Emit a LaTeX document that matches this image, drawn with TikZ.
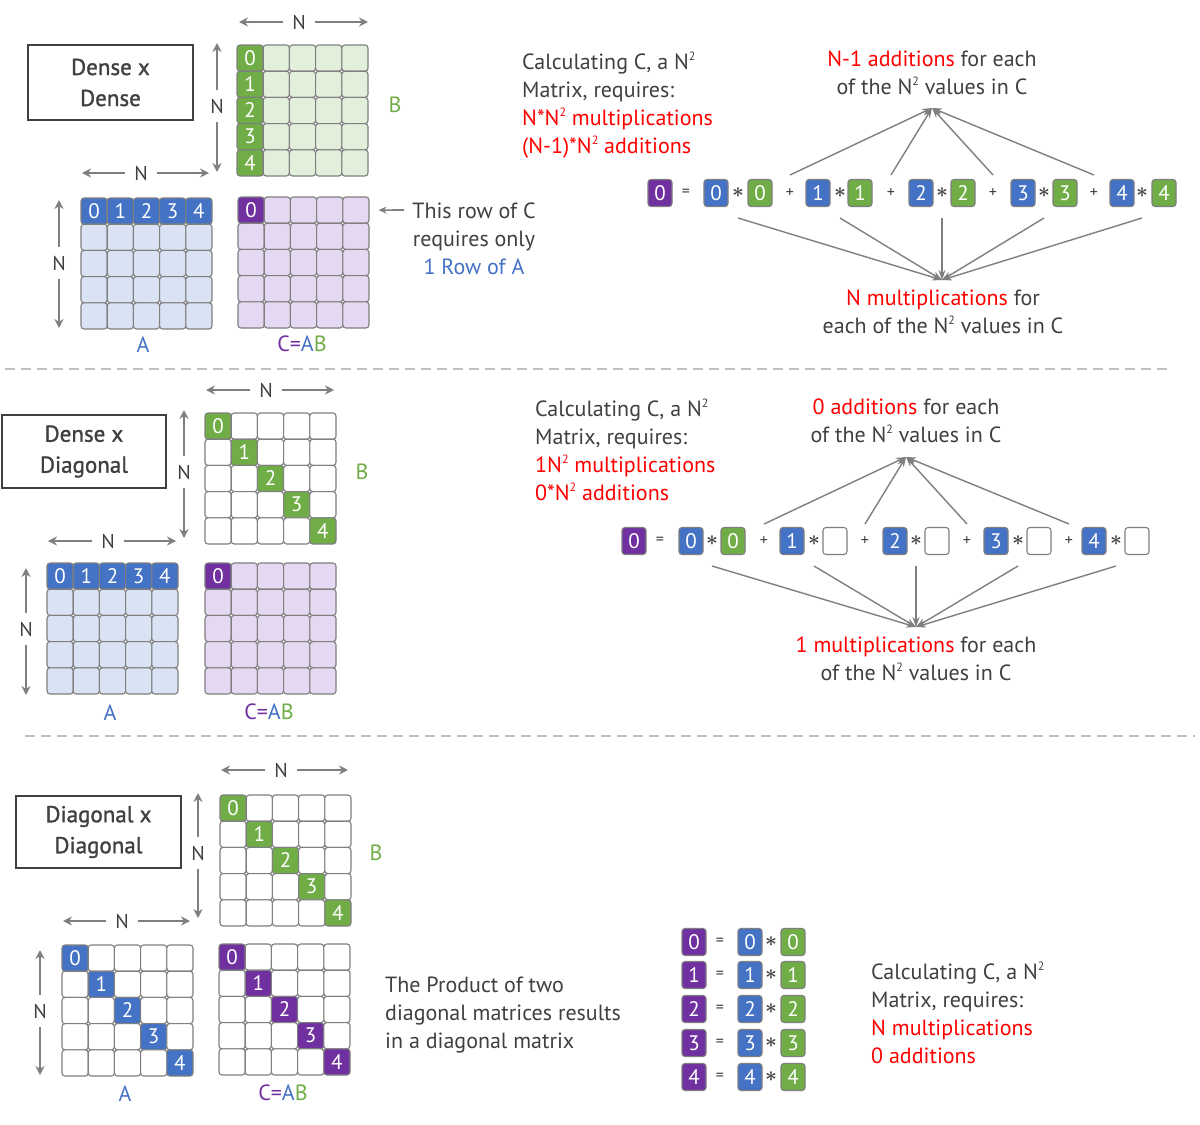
\documentclass[tikz,border=0pt]{standalone}
\usepackage{fontspec}
\setmainfont{PT Sans}
\usetikzlibrary{arrows.meta}
\definecolor{dgreen}{HTML}{70AD47}
\definecolor{lgreen}{HTML}{E2EFDA}
\definecolor{dblue}{HTML}{4472C4}
\definecolor{lblue}{HTML}{DAE3F3}
\definecolor{dpurple}{HTML}{7030A0}
\definecolor{lpurple}{HTML}{E5D8F2}
\definecolor{cellline}{HTML}{7F7F7F}
\definecolor{txtgray}{HTML}{404040}
\definecolor{arrgray}{HTML}{7F7F7F}
\definecolor{sepgray}{HTML}{BFBFBF}
\definecolor{myred}{HTML}{FF0000}
\newcommand\mycellfont{\fontsize{21}{22}\selectfont}
\newcommand\myopfont{\fontsize{16}{17}\selectfont}
\newcommand\mynfont{\fontsize{20}{22}\selectfont}
\newcommand\mytxtfont{\fontsize{22}{28}\selectfont}
\newcommand\mytitlefont{\fontsize{23}{31}\selectfont\addfontfeature{FakeBold=1.2}}
\newcommand\myast{\fontsize{20}{20}\selectfont$\boldsymbol{\ast}$}
\newcommand\sq{\raisebox{0.8ex}{\fontsize{12}{12}\selectfont 2}}
\usepackage{amsmath}
\tikzset{
 cell/.style={draw=cellline, line width=1.1pt, rounded corners=3pt, minimum size=26.2pt, inner sep=0pt, text=white, font=\mycellfont},
 eqbox/.style={draw=cellline, line width=1.1pt, rounded corners=3pt, minimum width=24pt, minimum height=27pt, inner sep=0pt, text=white, font=\mycellfont},
 op/.style={text=txtgray, font=\myopfont, inner sep=0pt},
 nlab/.style={text=txtgray, font=\mynfont, inner sep=9pt},
 narrow/.style={draw=arrgray, line width=2.8pt, -{Stealth[length=9pt,width=9pt]}},
 smallarr/.style={draw=arrgray, line width=1.6pt, -{Stealth[length=8pt,width=7pt]}},
 conv/.style={draw=arrgray, line width=1.4pt, -{Stealth[length=10pt,width=7pt]}},
 txt/.style={text=txtgray, font=\mytxtfont, inner sep=0pt, align=left},
 lab/.style={font=\mytxtfont, inner sep=0pt},
 titlebox/.style={draw=txtgray, line width=1.1pt, font=\mytitlefont, align=center, text=txtgray},
 sep/.style={draw=sepgray, line width=1.4pt, dash pattern=on 10pt off 6pt},
}
\newcommand\mymat[6]{%
 \foreach \i in {0,...,4}{%
  \foreach \j in {0,...,4}{%
   \pgfmathtruncatemacro\hl{((#6==1)&&(\i==0))||((#6==2)&&(\j==0))||((#6==3)&&(\i==\j))||((#6==4)&&(\i==0)&&(\j==0))}%
   \pgfmathtruncatemacro\lbl{(#6==1)?\j:\i}%
   \ifnum\hl=1
     \node[cell, fill=#5] (#1-\i-\j) at ({#2+(\j+0.5)*26.2},{#3+(\i+0.5)*26.2}) {\lbl};
   \else
     \node[cell, fill=#4] (#1-\i-\j) at ({#2+(\j+0.5)*26.2},{#3+(\i+0.5)*26.2}) {};
   \fi
  }}}
\newcommand\harr[5]{%
  \node[nlab] (#1) at (#2,#3) {N};
  \coordinate (#1l) at (#4,#3); \coordinate (#1r) at (#5,#3);
  \draw[narrow] (#1.west) -- (#1l); \draw[narrow] (#1.east) -- (#1r);}
\newcommand\varr[5]{%
  \node[nlab] (#1) at (#2,#3) {N};
  \coordinate (#1t) at (#2,#4); \coordinate (#1b) at (#2,#5);
  \draw[narrow] (#1.north) -- (#1t); \draw[narrow] (#1.south) -- (#1b);}
\begin{document}
\begin{tikzpicture}[x=1pt,y=-1pt]
\fill[white] (0,0) rectangle (1200,1125);
\useasboundingbox (0,0) rectangle (1200,1125);

% ================= Section 1 =================
\node[titlebox, minimum width=165pt, minimum height=75pt] (t1) at (110.5,82.5) {Dense x\\Dense};
\harr{n1t}{299}{22}{239}{368}
\varr{n1v}{217}{106}{43}{172}
\harr{n1h}{141}{173}{82}{209}
\varr{n1a}{59}{263}{200}{328}
\mymat{B1}{237}{45}{lgreen}{dgreen}{2}
\mymat{A1}{81}{198}{lblue}{dblue}{1}
\mymat{C1}{238}{197}{lpurple}{dpurple}{4}
\node[lab, text=dgreen] (b1lab) at (395,105) {B};
\node[lab, text=dblue] (a1lab) at (143,345) {A};
\node[lab] (c1lab) at (302,344) {\textcolor{dpurple}{C=}\textcolor{dblue}{A}\textcolor{dgreen}{B}};
\node[txt, align=center] (rowtxt) at (474,239) {This row of C\\requires only\\\textcolor{dblue}{1 Row of A}};
\coordinate (rowtail) at (404,210);
\draw[smallarr] (rowtail) -- ([xshift=9pt]C1-0-4.east);

\node[txt] (calc1) at (522,105) [anchor=west] {Calculating C, a N\sq\\Matrix, requires:\\\textcolor{myred}{N*N\sq{} multiplications}\\\textcolor{myred}{(N-1)*N\sq{} additions}};
\node[txt, align=center] (up1) at (932,73) {\textcolor{myred}{N-1 additions} for each\\of the N\sq{} values in C};
\node[txt, align=center] (dn1) at (943,312) {\textcolor{myred}{N multiplications} for\\each of the N\sq{} values in C};

\node[eqbox, fill=dpurple] (e1p) at (660,193) {0};
\node[op] (e1eq) at (686,193) {=};
\foreach \k/\xa/\xm/\xb/\xs in {0/716/738/760/0, 1/818/840/860/790, 2/921/942/963/891, 3/1023/1044/1065/993, 4/1122/1142/1164/1094}{
  \node[eqbox, fill=dblue] (e1a\k) at (\xa,193) {\k};
  \node[op] (e1m\k) at (\xm,193) {\myast};
  \node[eqbox, fill=dgreen] (e1b\k) at (\xb,193) {\k};
  \ifnum\k>0 \node[op] (e1s\k) at (\xs,193) {+}; \fi
}
\coordinate (e1top) at (932,108);
\coordinate (e1bot) at (942,280);
\foreach \k in {1,...,4} \draw[conv] ([yshift=18pt]e1s\k.center) -- (e1top);
\foreach \k in {0,...,4} \draw[conv] ([yshift=-25pt]e1m\k.center) -- (e1bot);

\coordinate (s1a) at (5,369); \coordinate (s1b) at (1172,369);
\draw[sep] (s1a) -- (s1b);

% ================= Section 2 =================
\node[titlebox, minimum width=164pt, minimum height=73pt] (t2) at (84,451.5) {Dense x\\Diagonal};
\harr{n2t}{266}{390}{206}{334}
\varr{n2v}{184}{472}{410}{538}
\harr{n2h}{108}{541}{48}{176}
\varr{n2a}{26}{629}{568}{695}
\mymat{B2}{205}{413}{white}{dgreen}{3}
\mymat{A2}{47}{563}{lblue}{dblue}{1}
\mymat{C2}{205}{563}{lpurple}{dpurple}{4}
\node[lab, text=dgreen] (b2lab) at (362,472) {B};
\node[lab, text=dblue] (a2lab) at (110,713) {A};
\node[lab] (c2lab) at (269,712) {\textcolor{dpurple}{C=}\textcolor{dblue}{A}\textcolor{dgreen}{B}};

\node[txt] (calc2) at (535,450) [anchor=west] {Calculating C, a N\sq\\Matrix, requires:\\\textcolor{myred}{1N\sq{} multiplications}\\\textcolor{myred}{0*N\sq{} additions}};
\node[txt, align=center] (up2) at (906,421) {\textcolor{myred}{0 additions} for each\\of the N\sq{} values in C};
\node[txt, align=center] (dn2) at (916,659) {\textcolor{myred}{1 multiplications} for each\\of the N\sq{} values in C};

\node[eqbox, fill=dpurple] (e2p) at (634,541) {0};
\node[op] (e2eq) at (660,541) {=};
\node[eqbox, fill=dblue] (e2a0) at (691,541) {0};
\node[op] (e2m0) at (712,541) {\myast};
\node[eqbox, fill=dgreen] (e2b0) at (733,541) {0};
\foreach \k/\xa/\xm/\xb/\xs in {1/792/814/835/764, 2/895/916/937/865, 3/996/1018/1039/967, 4/1094/1116/1137/1069}{
  \node[op] (e2s\k) at (\xs,541) {+};
  \node[eqbox, fill=dblue] (e2a\k) at (\xa,541) {\k};
  \node[op] (e2m\k) at (\xm,541) {\myast};
  \node[eqbox, fill=white] (e2b\k) at (\xb,541) {};
}
\coordinate (e2top) at (906,457);
\coordinate (e2bot) at (916,627);
\foreach \k in {1,...,4} \draw[conv] ([yshift=17pt]e2s\k.center) -- (e2top);
\foreach \k in {0,...,4} \draw[conv] ([yshift=-25pt]e2m\k.center) -- (e2bot);

\coordinate (s2a) at (25,736); \coordinate (s2b) at (1195,736);
\draw[sep] (s2a) -- (s2b);

% ================= Section 3 =================
\node[titlebox, minimum width=165pt, minimum height=72pt] (t3) at (98.5,832) {Diagonal x\\Diagonal};
\harr{n3t}{281}{770}{221}{348}
\varr{n3v}{198}{853}{793}{918}
\harr{n3h}{122}{921}{63}{190}
\varr{n3a}{40}{1011}{950}{1075}
\mymat{B3}{220}{795}{white}{dgreen}{3}
\mymat{A3}{62}{945}{white}{dblue}{3}
\mymat{C3}{219}{944}{white}{dpurple}{3}
\node[lab, text=dgreen] (b3lab) at (376,853) {B};
\node[lab, text=dblue] (a3lab) at (125,1094) {A};
\node[lab] (c3lab) at (283,1093) {\textcolor{dpurple}{C=}\textcolor{dblue}{A}\textcolor{dgreen}{B}};

\node[txt] (prod) at (385,1015) [anchor=west] {The Product of two\\diagonal matrices results\\in a diagonal matrix};

\foreach \k/\yy in {0/942, 1/975, 2/1009, 3/1043, 4/1077}{
  \node[eqbox, fill=dpurple] (e3p\k) at (694,\yy) {\k};
  \node[op] (e3eq\k) at (720,\yy) {=};
  \node[eqbox, fill=dblue] (e3a\k) at (750,\yy) {\k};
  \node[op] (e3m\k) at (771,\yy) {\myast};
  \node[eqbox, fill=dgreen] (e3b\k) at (793,\yy) {\k};
}
\node[txt] (calc3) at (871,1013) [anchor=west] {Calculating C, a N\sq\\Matrix, requires:\\\textcolor{myred}{N multiplications}\\\textcolor{myred}{0 additions}};
\end{tikzpicture}
\end{document}
